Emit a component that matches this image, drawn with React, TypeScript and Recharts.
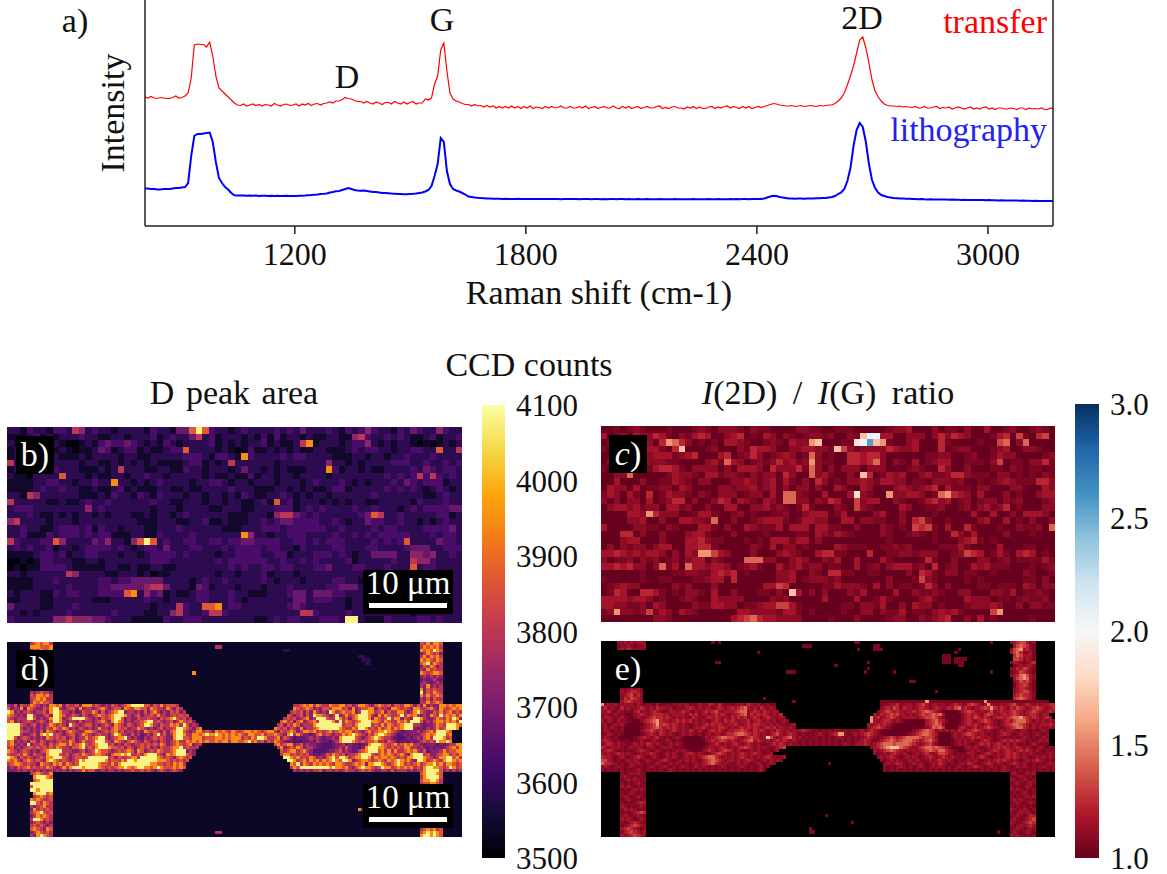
import React from "react";
import { Bar, BarChart, Line, LineChart, Scatter, ScatterChart, XAxis, YAxis } from "recharts";

const SERIF = '"Liberation Serif", serif';

const shiftValues = [
  811, 819, 827, 835, 843, 851, 859, 867, 875, 883,
  891, 899, 907, 915, 923, 931, 939, 947, 955, 963,
  971, 979, 987, 995, 1003, 1011, 1019, 1027, 1035, 1043,
  1051, 1059, 1067, 1075, 1083, 1091, 1099, 1107, 1115, 1123,
  1131, 1139, 1147, 1155, 1163, 1171, 1179, 1187, 1195, 1203,
  1211, 1219, 1227, 1235, 1243, 1251, 1259, 1267, 1275, 1283,
  1291, 1299, 1307, 1315, 1323, 1331, 1339, 1347, 1355, 1363,
  1371, 1379, 1387, 1395, 1403, 1411, 1419, 1427, 1435, 1443,
  1451, 1459, 1467, 1475, 1483, 1491, 1499, 1507, 1515, 1523,
  1531, 1539, 1547, 1555, 1563, 1571, 1579, 1587, 1595, 1603,
  1611, 1619, 1627, 1635, 1643, 1651, 1659, 1667, 1675, 1683,
  1691, 1699, 1707, 1715, 1723, 1731, 1739, 1747, 1755, 1763,
  1771, 1779, 1787, 1795, 1803, 1811, 1819, 1827, 1835, 1843,
  1851, 1859, 1867, 1875, 1883, 1891, 1899, 1907, 1915, 1923,
  1931, 1939, 1947, 1955, 1963, 1971, 1979, 1987, 1995, 2003,
  2011, 2019, 2027, 2035, 2043, 2051, 2059, 2067, 2075, 2083,
  2091, 2099, 2107, 2115, 2123, 2131, 2139, 2147, 2155, 2163,
  2171, 2179, 2187, 2195, 2203, 2211, 2219, 2227, 2235, 2243,
  2251, 2259, 2267, 2275, 2283, 2291, 2299, 2307, 2315, 2323,
  2331, 2339, 2347, 2355, 2363, 2371, 2379, 2387, 2395, 2403,
  2411, 2419, 2427, 2435, 2443, 2451, 2459, 2467, 2475, 2483,
  2491, 2499, 2507, 2515, 2523, 2531, 2539, 2547, 2555, 2563,
  2571, 2579, 2587, 2595, 2603, 2611, 2619, 2627, 2635, 2643,
  2651, 2659, 2667, 2675, 2683, 2691, 2699, 2707, 2715, 2723,
  2731, 2739, 2747, 2755, 2763, 2771, 2779, 2787, 2795, 2803,
  2811, 2819, 2827, 2835, 2843, 2851, 2859, 2867, 2875, 2883,
  2891, 2899, 2907, 2915, 2923, 2931, 2939, 2947, 2955, 2963,
  2971, 2979, 2987, 2995, 3003, 3011, 3019, 3027, 3035, 3043,
  3051, 3059, 3067, 3075, 3083, 3091, 3099, 3107, 3115, 3123,
  3131, 3139, 3147, 3155, 3163, 3169,
];

const transferValues = [
  129, 128, 129.5, 128, 127.5, 128.5, 128, 127.5, 127.5, 128.5,
  130, 128, 128.5, 130, 133, 148, 181, 182, 181.5, 181.5,
  179, 184, 170, 150, 138, 135, 132, 129, 126, 123,
  121, 120.5, 122, 120, 121, 122, 120.5, 121.5, 120, 121.5,
  121, 120, 122.5, 121, 120, 121.5, 122, 120.5, 121, 122,
  120, 122, 121, 122.5, 120.5, 122, 122.5, 121, 122.5, 123,
  124, 123, 125, 125, 126.5, 128.5, 127.5, 127, 125.5, 124.5,
  124.5, 123, 124.5, 123, 122, 124, 123, 121.5, 123.5, 123.5,
  122, 124.5, 123, 122, 124, 122, 123.5, 124.5, 122, 123,
  123, 127, 126, 128, 142, 150, 176, 183, 155, 133,
  127, 125, 124, 122.5, 121.5, 121.5, 120, 121.5, 120, 120.5,
  119, 120.5, 119, 120, 118, 119.5, 118, 119.5, 118, 120,
  118, 119.5, 117.5, 119.5, 118, 120, 117.5, 119, 118.5, 117.5,
  119.5, 118, 119.5, 118, 118.5, 120, 118, 118, 119.5, 118,
  118, 119.5, 118, 120, 117.5, 118.5, 119.5, 117.5, 118.5, 119.5,
  118, 118, 120, 118, 117.5, 119.5, 118, 119.5, 117.5, 118.5,
  119.5, 117.5, 118.5, 119.5, 118, 118, 119.5, 120, 117.5, 118.5,
  117.5, 119, 119.5, 118, 118, 117, 119, 118, 119.5, 117.5,
  119, 117.5, 117.5, 119, 119.5, 117.5, 119, 118, 119.5, 120,
  118, 119.5, 118.5, 117.5, 119.5, 118, 119.5, 117.5, 118.5, 119.5,
  118.5, 119.5, 120.5, 121.5, 122.5, 122, 121, 120.5, 120, 120,
  120.5, 119.5, 120, 120.5, 119.5, 120, 120.5, 120, 119.5, 120.5,
  120, 120.5, 121, 121, 122.5, 125, 128, 133, 141, 150,
  160, 173, 186, 189, 178, 163, 146, 135, 129, 125,
  122, 120.5, 120, 120, 119.5, 120, 119, 119.5, 119, 118.5,
  119.5, 118, 118, 119.5, 118, 118, 119, 119.5, 117.5, 118.5,
  118, 119, 117, 118, 119, 118, 117, 118, 119, 117,
  118, 117, 118.5, 119, 117, 118, 116.5, 118, 118, 117,
  117, 118, 117.5, 116.5, 118, 118, 116.5, 118, 117, 117.5,
  117, 118, 116.5, 116.5, 118, 117,
];

const lithographyValues = [
  37.5, 37.5, 37, 37, 36.5, 36.5, 37, 37, 37, 37.5,
  38, 38, 38.5, 39, 43, 70, 90, 92, 92, 92.5,
  93, 93.5, 84, 64, 48, 43, 39, 36.5, 33, 30.7,
  30.5, 30.5, 30.5, 30.3, 30.5, 30.2, 30.5, 30, 30.3, 30.2,
  30, 30.2, 30, 30.3, 30, 30, 30.2, 30, 30, 30,
  30.2, 30.3, 30.5, 30.8, 31, 31.3, 31.5, 32, 32.2, 32.5,
  33.5, 34, 34.7, 35, 36, 37, 38, 37, 36, 35.5,
  35.3, 35.5, 35, 34.5, 34, 34, 33.5, 33, 33, 32.8,
  32.5, 32.3, 32, 32, 31.8, 31.8, 32, 32.2, 32.5, 33,
  33.5, 34.5, 36, 40, 50, 62, 88, 84, 55, 42,
  37, 35.5, 34.5, 33, 31.5, 29.5, 29, 28.5, 28.2, 28,
  27.8, 27.5, 27.5, 27.3, 27.2, 27.2, 27, 27.2, 27, 27,
  27, 27.2, 27, 27.1, 26.9, 27, 27.1, 26.9, 27, 27,
  26.9, 27, 27.1, 26.9, 27, 26.8, 27, 27, 26.9, 27,
  26.9, 26.8, 27, 26.9, 27, 26.8, 26.9, 27, 26.8, 26.9,
  26.8, 27, 26.9, 26.8, 26.9, 27, 26.8, 26.9, 26.8, 26.7,
  26.9, 26.8, 26.7, 26.9, 26.8, 26.7, 26.8, 26.9, 26.7, 26.8,
  26.7, 26.8, 26.9, 26.7, 26.8, 26.7, 26.8, 26.7, 26.9, 26.8,
  26.7, 26.8, 26.7, 26.9, 26.8, 26.7, 26.9, 26.8, 26.7, 26.8,
  26.9, 26.8, 26.9, 26.8, 26.9, 27, 26.8, 26.9, 26.9, 27,
  27, 27.5, 28.5, 29.5, 30.3, 30, 29, 28.5, 28, 27.5,
  27.5, 27.3, 27.5, 27.5, 27.3, 27.5, 27.5, 27.5, 27.7, 27.7,
  28, 28, 28.5, 29, 30, 32, 33.5, 37, 45, 58,
  80, 96, 103, 99, 84, 62, 46, 38, 33.5, 31,
  30, 29, 28.5, 28, 27.8, 27.5, 27.5, 27.3, 27.2, 27,
  27, 26.8, 26.9, 26.7, 26.6, 26.7, 26.5, 26.6, 26.4, 26.5,
  26.4, 26.3, 26.4, 26.2, 26.3, 26.1, 26.2, 26, 26.1, 26,
  26, 25.9, 26, 25.8, 25.9, 25.7, 25.8, 25.6, 25.7, 25.6,
  25.5, 25.6, 25.4, 25.5, 25.3, 25.4, 25.2, 25.3, 25.1, 25.2,
  25, 25.1, 25, 24.9, 25, 24.9,
];

const spectrumTicks = [1200, 1800, 2400, 3000];

// Digits in the map rows index these levels
const transferCountLevels = [3510, 3545, 3590, 3630, 3680, 3730, 3800, 3870, 3950, 4080];
const lithographyCountLevels = [3510, 3545, 3590, 3650, 3680, 3720, 3790, 3860, 3950, 4080];
const ratioLevels: Record<string, number> = {
  "0": 1.0, "1": 1.05, "2": 1.1, "3": 1.16, "4": 1.24, "5": 1.32, "6": 1.42, "7": 1.55, "8": 1.7, "9": 1.85, W: 2.03, B: 2.55,
};

const infernoStops = ["#000004", "#160b39", "#420a68", "#6a176e", "#932667", "#bc3754", "#dd513a", "#f37819", "#fca50a", "#f6d746", "#fcffa4"];
const rdbuStops = ["#67001f", "#b2182b", "#d6604d", "#f4a582", "#fddbc7", "#f7f7f7", "#d1e5f0", "#92c5de", "#4393c3", "#2166ac", "#053061"];

const countMarks = [3500, 3650, 3800, 3950, 4100];
const countLabels = [3500, 3600, 3700, 3800, 3900, 4000, 4100];
const ratioMarks = [1, 1.5, 2, 2.5, 3];

// D peak area, transfer sample
const dPeakTransfer = [
  "2213221332 6523221222 2132214479 7322123222 2323242223 2132353221 3243225322",
  "1112312122 2322112212 2231232246 2312221213 1312212112 2115632232 3211231223",
  "2121223210 0121343343 2121321222 2312121223 1211268122 2123352121 2210101212",
  "1211222121 0112431233 1211233722 2212101311 2121211221 1123233221 2233227226",
  "1232123211 1212222122 1122222333 2133218322 2232332222 1112212212 2322232222",
  "6221232222 2122112121 2121111233 1212622222 2122222225 2212122223 3322322323",
  "1223231322 2111212622 2112211322 1222124221 2121112228 3122121122 2232432332",
  "2110222272 2212112212 2322122222 1211211312 2122122221 2222222232 3236363232",
  "1111223322 1223228221 2123222212 2332122122 2122212322 2321212223 2432333122",
  "1111232232 2112112312 1112211211 2222322211 1221212112 3312222232 3232123212",
  "2216522222 2111213221 3213222122 1221213211 2232121221 2222223222 2222112322",
  "6222221121 1232232222 2232211222 1221221123 1723122212 1212211222 2213222322",
  "2333222222 2252322222 2212221222 2112221122 2333123232 2223223222 1232333344",
  "2223211212 1221212221 1212212322 2222111222 1566432322 2222347622 3222223312",
  "5622221222 1222222222 1112221122 3112111223 2344333322 3212243322 3221212322",
  "2232211233 3231322122 2112223222 2221112223 3323333332 2322223233 2222333342",
  "2231113233 3232331112 2113222232 2222228522 1223332222 3223232333 3322232332",
  "6322233752 2224352215 7972322332 2332334433 3322332323 3322223232 3722224332",
  "2323223122 1233332321 2332422233 2223233332 3322132222 3322233222 2344422333",
  "1111233231 2233222122 1233332322 2212233332 2331222333 2321224444 2255452232",
  "0010133222 1122122222 2233322222 2232333333 2232232322 2231222223 2265532222",
  "0101133332 1111122112 1122112222 2222323223 3233222334 2223322232 2272332222",
  "2212222226 5222211222 1201122222 2212212223 1222122222 2222233222 2222122222",
  "1111222322 2222332334 4444222212 3223222223 2122212222 3322122222 2222222222",
  "1111222223 2222334444 4566422214 3122212221 2223222223 3444222222 2222221222",
  "2122211323 3222333378 2534121123 3222322111 2223442444 3322222222 2222222222",
  "1122211222 2221112222 2322122223 3222321222 2222442333 2212222222 2222222222",
  "4222211222 3222222222 2212226322 7782332222 2223432222 2212222222 2222212222",
  "2212122223 2222223222 2112256322 3663222222 2222266322 2232222222 2212222222",
  "3222222556 5554432221 1111322333 2222222211 2323322233 3299211132 2223323222",
];

// I(2D)/I(G), transfer sample
const ratioTransfer = [
  "0010121000 1000121022 2102110000 2211001110 0000122300 0201102003 0012001210",
  "3012032243 1021343002 3401032021 0122120021 8WW3300222 0242432000 1340510450",
  "0120001204 7642010103 3210012103 2278000119 WB87100230 0041000010 0560260000",
  "1011203331 0480001200 0214332002 2332218521 2222432230 0040122000 1230022100",
  "0000123233 3123400034 0124201232 0162010044 3442000000 1122001200 1322000012",
  "0212332222 1100002316 3201212423 1272110044 3462021030 1233001110 2501102241",
  "1002222134 4310222202 0333204222 4162020222 0222000121 0042002000 1102101101",
  "0022600000 1322103312 2102122042 0062310020 8401323002 3112442111 0220101021",
  "0030002001 1321022000 2232123031 0204201022 3213322011 0222120010 1232111442",
  "0322030112 2032000022 1223123020 2202003200 3200023212 3403111022 0002200032",
  "1320310401 3221021022 2012203066 2100300039 2100722332 0167432030 0020100233",
  "2020220301 2440200243 0321032066 2202143005 2330021001 3423012012 2021200012",
  "0233231220 3312002003 3002231210 1410002105 2100003200 1120012023 1240100022",
  "0000332742 2200133100 1201001120 0233301300 0023002000 0100000300 3002033320",
  "0000223002 0033221600 2001233310 1332200330 2211002045 2001000023 0030102002",
  "3000022110 2100033102 0032111303 3303311002 0002101054 5103004100 0100211206",
  "0004402002 0002331000 2000010000 1103213210 0002100121 0100420300 0020001000",
  "0002330002 0003342110 0010103331 3302000000 0000100000 0100023410 1000000000",
  "0202122023 3003344100 0002103022 0100003211 1001121200 0011131000 0300011000",
  "3343232332 0203277532 0002000232 1003441100 0400112212 2200125430 1310343010",
  "2011202120 1202330210 0066622002 3200213003 0003100000 4100200022 0120111131",
  "3343422026 1306332332 0123100312 3122011003 0120233312 0401200323 1110001012",
  "0000001000 0112211343 4010000223 0021044110 0110000204 3102201100 1000021001",
  "1000001001 1000112330 4000000223 0122212000 0000200015 2100001010 0000011020",
  "0123220000 0212000200 0000033540 0000113222 1030201101 4202000011 0111032022",
  "0143004431 0102210300 2000110208 3020200021 3000030021 1210022000 2213011210",
  "3333233201 0012100322 2200002120 0000300003 0013100002 3100003222 0110121120",
  "3322112032 0000211332 2011233553 1000000110 2213002032 2010001222 3200202211",
  "1272212513 2032100000 0332222133 1010000100 2202113011 0232310000 5700000000",
  "0000000022 1000000000 3456433222 2000010002 0000122002 1234002030 1000001000",
];

// [row, first column, digits] on the finer grid of the lithography maps
type Segment = [number, number, string];

const dPeakLithography: Segment[] = [
  [0, 7, "6787886"], [0, 127, "7686887"], [1, 64, "66"], [1, 7, "8887778"], [1, 127, "6878786"], [2, 7, "5768678"], [2, 127, "8787987"],
  [2, 85, "22"], [3, 127, "5687675"], [4, 127, "6868786"], [4, 108, "22"], [5, 127, "8787687"], [5, 109, "222"], [6, 127, "7896876"], [6, 110, "22"],
  [7, 127, "5768756"], [8, 127, "6586766"], [9, 127, "8767887"], [9, 57, "8"], [10, 127, "5656565"], [11, 127, "4545654"], [12, 127, "5654565"],
  [13, 127, "6585656"], [14, 127, "8576766"], [15, 127, "9576876"], [16, 127, "8686787"], [17, 127, "6575766"], [18, 127, "6686787"],
  [15, 7, "6567665"], [16, 7, "7688786"], [17, 7, "6787866"], [18, 7, "6878776"],
  [19, 0, "6574766876 5658878576 6758886765 6576567899 9977576867 776"], [19, 88, "6678786876 6877886756 8876578767 5776887575 8565588787 88"],
  [20, 0, "7565848765 5768996567 7585665678 6567758768 8775876658 6576"], [20, 88, "8767875657 7688867585 6778857665 8876765886 6786587678 78"],
  [21, 0, "9856567656 6758998665 6457668757 5678995665 6575786565 76756"], [21, 87, "6767575865 6598678778 5699886785 7668865689 7655768678 676"],
  [22, 0, "8765659965 5675998756 7657656787 6789998656 7566768665 676767"], [22, 86, "7656757598 8765695686 7899986586 8766796878 6565876978 7868"],
  [23, 0, "7656669975 6568998567 9999765657 6789975655 7667665767 8976756"], [23, 85, "6767567856 9997669867 5789998587 6796885765 9986556876 87985"],
  [24, 0, "7856567656 7657998656 6575665678 6589875656 6789967656 75687675"], [24, 84, "7867578567 8699998696 8767899988 7687668786 9997565788 7878697"],
  [25, 0, "9999765675 6568767659 7656775656 7658765765 6799865766 878697565"], [25, 83, "6757687566 6899999999 6776899996 7686876789 9966545568 7699987"],
  [26, 0, "9999656565 6576876875 6576565686 6578767566 8765656756 6799876578"], [26, 82, "8767576585 6678999999 8766879986 7686786878 9995454656 8679998"],
  [27, 0, "9999766565 7587656578 7656887656 7678675665 6587676575 7899765688 6765878768 7678878767 8865767875 6887867678 6787886765 7867889876 5445556567 8699987"],
  [28, 0, "9999655675 8989676567 7568765676 6579866575 6456579675 6899866887 8988987878 7876887786 7787658968 6554578676 5668789876 5768998765 3454555678 7899978"],
  [29, 0, "9975676565 6587676756 7566867899 6567889656 5465676765 5899776888 6777887878 8867687998 6678576534 4456565455 6589999765 6789876654 3345456578 6999867"],
  [30, 0, "7856565775 7656567668 7568667999 7658765787 6576565765 6786687878 7877878868 8778978675 7687654433 3445465443 5689998767 6778665765 3444545676 7698898"],
  [31, 0, "7865659566 7657678868 6789767899 9675657656 6767676875 6787678566"], [31, 82, "7867885675 6554433345 5645443458 9998767867 8786654555 3545668867 78"],
  [32, 0, "6756567767 6767687665 7789676899 9877675765 6767565766 788967666"], [32, 83, "6856768756 6543333456 5754435899 9887676768 8665654545 4567868785 6"],
  [33, 0, "8765676565 6789999666 5567567987 7656767875 8756768766 78999565"], [33, 84, "7678867865 3333455675 6544678999 7868686678 7865745556 86778878"],
  [34, 0, "7667686576 6589997675 6768767887 6578898966 7689997658 78999765"], [34, 84, "6886767675 4445768767 5667899976 7878767865 8999675567 88676878"],
  [35, 0, "9875767656 7688999765 6776799999 9675766788 6999998767 6578767"], [35, 85, "9987867687 5657897998 6788998687 8878767688 9998765688 99786"],
  [36, 0, "8786578767 6589876765 6798999999 8677687998 9999998887 676767"], [36, 86, "9986786878 6878987998 5678876787 6878987865 9986787689 9878"],
  [37, 0, "6788767665 8776878687 6799999987 7686899999 9999887767 68786"], [37, 87, "8796876878 7876887667 8785889987 6789867678 6788978688 767"],
  [38, 0, "5657678676 7687656868 9998999987 6767889878 9988789877 78787"], [38, 87, "6879999999 9989887865 7898876798 8678787867 6899887679 867"],
  [39, 0, "5556565656 5656565656 5668677556 5665656676 6767656765 6765"], [39, 88, "6565656675 6656567665 6767655665 7566656566 8999975656 56"],
  [40, 7, "6787668"], [40, 127, "7899987"], [41, 8, "899987"], [41, 127, "6899997"], [42, 8, "789999"], [42, 127, "7889986"], [43, 7, "9999999"], [43, 127, "6778876"],
  [44, 7, "7999999"], [45, 7, "9989999"], [46, 8, "899978"], [47, 8, "678767"], [48, 7, "8787667"], [49, 7, "9976876"], [50, 7, "6567866"],
  [51, 7, "5867676"], [51, 108, "84"], [52, 7, "6789767"], [53, 7, "5687876"], [54, 7, "6998676"], [55, 7, "5676565"], [56, 7, "6767656"],
  [57, 7, "7876587"], [58, 7, "5687676"], [58, 64, "66"], [59, 7, "6589876"], [57, 127, "6787867"], [58, 127, "7898987"], [59, 127, "8998987"],
];

const ratioLithography: Segment[] = [
  [0, 5, "223232332"], [1, 5, "122321223"], [2, 5, "232432222"], [0, 34, "1"], [0, 36, "1"], [0, 78, "11"], [0, 120, "1"], [1, 62, "111"], [1, 84, "11"], [2, 84, "111"], [2, 79, "1"], [2, 110, "1"], [3, 48, "1"], [3, 109, "1"],
  [4, 105, "111"], [5, 105, "111"], [5, 109, "1111"], [6, 35, "11"], [6, 82, "1"], [6, 105, "111"], [6, 109, "111"], [7, 72, "1"], [7, 110, "11"], [8, 82, "1"], [9, 57, "111"], [9, 81, "1"], [9, 90, "1"], [9, 120, "1"], [12, 95, "11"], [15, 103, "1"], [17, 50, "1"], [18, 59, "1"],
  [0, 126, "23455312"], [1, 127, "3565421"], [2, 126, "25673421"], [3, 126, "35642231"], [4, 127, "4653331"], [5, 127, "5542321"], [6, 126, "23321234"], [7, 127, "1232332"], [8, 126, "22435421"], [9, 126, "12354321"], [10, 126, "23467532"], [11, 127, "3567632"], [12, 127, "2354531"], [13, 127, "1345421"], [14, 127, "2344321"], [15, 127, "2345531"], [16, 127, "3454432"], [17, 127, "4565431"],
  [14, 6, "2123231"], [15, 6, "3234432"], [16, 6, "2345342"], [17, 6, "2435432"], [18, 6, "3454332"],
  [19, 0, "7232322323 2321221311 2122323121 3224324212 1223243232 1211"], [18, 86, "1111111111 1111711111 1111111111 1171111111 1111111111 11"],
  [19, 86, "1223342233 2345323323 1234322454 3237322323 4532343232 3344"],
  [20, 0, "3423214232 2343232433 2312223432 3233234323 4345632324 3232"], [20, 86, "2343542433 2344323432 3435634323 3454743432 4354323454 3234"],
  [21, 0, "3242132121 3423234321 2332343213 2343453233 3456623432 43233"], [21, 85, "2345434323 3434565432 0000023454 3232352343 3454323454 32343"],
  [22, 0, "2321322101 2343234443 3233332434 2332343432 3345624343 432324"], [22, 84, "3243454533 2323454565 6300000234 3432454323 4345432344 3233"],
  [23, 0, "2332123210 2322345443 4323232143 2234343232 4343423432 3432232"], [23, 83, "7342345432 3333234556 5320000023 4354343234 4345667543 432343"],
  [24, 0, "3132132211 0023456743 3234343423 2321343243 4323342343 23231232"], [24, 83, "7323443232 0000000345 6432000023 4323454321 2343566643 2323232"],
  [25, 0, "2312323100 0002345745 4343232123 2343434323 3432343443 3232322123"], [25, 82, "3234343210 0000000034 5652000012 3434323432 1234566543 23233343"],
  [26, 0, "1323212000 0012345643 4343232123 3432334432 3234343432 3434232232"], [26, 82, "2345432100 0000000123 6564000034 3234234543 2123456643 23232232"],
  [27, 0, "2321212000 0023454343 2343232432 3213434323 3445432434 3232432323 2343212121 2122121212 3234321000 0000002345 6542323232 4323454323 2123233212 32121232"],
  [28, 0, "1232121000 0012343243 2321232321 2123233234 4566543432 3234532343 2121212321 2347721232 3454321000 0000123456 6543000023 2345432321 2123432123 22123212"],
  [29, 0, "2321210000 1234323421 2123210000 0132345665 5432345432 3853234563 2312122121 2123212121 2343212345 4345666654 5542000023 2323434323 2122121212 32121232"],
  [30, 0, "3432121110 1232123212 3212100000 0023434543 4323456343 2323434323 2121212121 2121212122 3432123456 5456665434 5643000002 3232321343 2123434343 21212323"],
  [31, 0, "2343232212 3232432321 2323210000 0012343232 3432343232 1234343232 2121212121 2121232123 3432345666 5666654323 4532000012 3232123434 2343232321 21232121"],
  [32, 0, "4323232123 2321232123 2321210000 0123323432 3234543232 3212345"], [32, 83, "2345678886 5432345665 6543200002 3232123234 3432343232 1232121"],
  [33, 0, "2343212121 2343212321 2123232100 1234323454 3232123232 12123"], [33, 84, "3234565432 3232345654 6643210012 3232123432 3432343432 32121212"],
  [34, 0, "3232343232 1232343212 3232123432 3212345432 3234323432 123"], [34, 84, "2123234323 2123234323 5543212123 3212343232 3434323232 12123232"],
  [35, 0, "4332123212 3432123212 3232123232 3456643232 3234323232 3432123"], [35, 85, "2323432123 2321234323 4323212123 2343212323 4343232123 23232"],
  [36, 0, "5532121232 3212321234 3212323232 1345654323 3232343212 323232"], [36, 86, "2123232123 2321232343 2321212323 2123234343 2321232343 2121"],
  [37, 0, "6443212123 2321212321 2323212123 2345643232 1232321232 1232"], [37, 87, "2323432123 2321232432 1212324321 2343232123 4323212121 232"], [37, 70, "1"],
  [38, 0, "2321232123 2121232123 2121232123 2321212321 2123212123 12"], [38, 87, "2121232121 2321232321 2123212343 2123212321 2323212123 212"],
  [39, 0, "2121212121 2321212121 2321212121 2121212121 2121212123 1"], [39, 87, "2121212121 2121212121 2121212121 2121212321 2121212121 2123"],
  [40, 6, "21232321"], [40, 126, "23212323"], [41, 6, "23212121"], [41, 126, "21232121"], [42, 6, "12323212"], [42, 126, "32123212"], [43, 6, "21212321"], [43, 126, "12321232"], [44, 6, "32321212"], [44, 126, "21212321"], [45, 6, "12123232"], [45, 126, "32321212"], [46, 6, "21232121"], [46, 126, "12123212"], [47, 6, "23212321"], [47, 126, "21212323"], [48, 6, "12321212"], [48, 126, "23232121"], [49, 6, "21212343"], [49, 126, "12321232"], [50, 6, "32121232"], [50, 126, "21212121"], [51, 6, "23232121"], [51, 126, "32123212"], [52, 6, "12123454"], [52, 126, "21232321"], [53, 6, "23212321"], [53, 126, "12321243"], [53, 69, "1"], [54, 6, "32321232"], [54, 126, "23212345"], [55, 6, "21234321"], [55, 126, "32123454"], [55, 77, "1"], [56, 6, "12345432"], [56, 126, "21232343"], [57, 6, "34543212"], [57, 126, "12321232"], [57, 64, "1"], [58, 6, "23454323"], [58, 126, "23212321"], [58, 64, "11"], [58, 122, "1"], [59, 6, "32345432"], [59, 126, "32321212"],
];

function interpolate(stops: string[], t: number) {
  const clamped = Math.max(0, Math.min(1, t));
  const pos = clamped * (stops.length - 1);
  const i = Math.min(Math.floor(pos), stops.length - 2);
  const f = pos - i;
  const rgb = [1, 3, 5].map((k) => {
    const a = parseInt(stops[i].slice(k, k + 2), 16);
    const b = parseInt(stops[i + 1].slice(k, k + 2), 16);
    return Math.round(a + (b - a) * f);
  });
  return `rgb(${rgb.join(",")})`;
}

const countColor = (v: number) => interpolate(infernoStops, (v - 3500) / 600);
const ratioColor = (v: number) => interpolate(rdbuStops, (v - 1) / 2);

type MapCell = { col: number; row: number; fill: string };

function cellsFromRows(rows: string[], colorOf: (c: string) => string): MapCell[] {
  const cells: MapCell[] = [];
  rows.forEach((r, row) => {
    r.replace(/ /g, "").split("").forEach((c, col) => {
      cells.push({ col: col + 0.5, row: row + 0.5, fill: colorOf(c) });
    });
  });
  return cells;
}

function cellsFromSegments(segments: Segment[], colorOf: (c: string) => string): MapCell[] {
  const cells: MapCell[] = [];
  segments.forEach(([row, start, digits]) => {
    digits.replace(/ /g, "").split("").forEach((c, i) => {
      if (start + i < 140) cells.push({ col: start + i + 0.5, row: row + 0.5, fill: colorOf(c) });
    });
  });
  return cells;
}

const ratioOf = (c: string) => ratioColor(ratioLevels[c]);

function MapPanel({ left, top, width, height, cols, rows, cells, background }: {
  left: number; top: number; width: number; height: number; cols: number; rows: number; cells: MapCell[]; background?: string;
}) {
  const w = width / cols;
  const h = height / rows;
  return (
    <div style={{ position: "absolute", left, top, width, height, background }}>
      <ScatterChart width={width} height={height} margin={{ top: 0, right: 0, bottom: 0, left: 0 }}>
        <XAxis type="number" dataKey="col" domain={[0, cols]} hide />
        <YAxis type="number" dataKey="row" domain={[0, rows]} reversed hide />
        <Scatter
          data={cells}
          isAnimationActive={false}
          shape={(p: any) => (
            <rect x={p.cx - w / 2} y={p.cy - h / 2} width={w} height={h} fill={p.payload.fill} shapeRendering="crispEdges" />
          )}
        />
      </ScatterChart>
    </div>
  );
}

function Note({ x, y, size = 34, color = "#111", anchor = "center", spacing = 0, children }: {
  x: number; y: number; size?: number; color?: string; anchor?: "center" | "right"; spacing?: number; children: React.ReactNode;
}) {
  const tx = anchor === "center" ? "-50%" : "-100%";
  return (
    <div style={{ position: "absolute", left: x, top: y, transform: `translate(${tx}, -50%)`, fontFamily: SERIF, fontSize: size, color, whiteSpace: "nowrap", lineHeight: 1, wordSpacing: spacing }}>
      {children}
    </div>
  );
}

function BlackBox({ x, y, w, h }: { x: number; y: number; w: number; h: number }) {
  return <div style={{ position: "absolute", left: x, top: y, width: w, height: h, background: "#000" }} />;
}

function Colorbar({ left, top, height, width, id, stops, domain, marks, labels, digits }: {
  left: number; top: number; height: number; width: number; id: string; stops: string[]; domain: [number, number]; marks: number[]; labels: number[]; digits: number;
}) {
  const pad = 16;
  return (
    <div style={{ position: "absolute", left, top: top - pad }}>
      <BarChart width={width + 81} height={height + 2 * pad} data={[{ name: "scale", top: domain[1] }]} margin={{ top: pad, right: 0, bottom: pad, left: 0 }} barCategoryGap={0}>
        <defs>
          <linearGradient id={id} x1="0" y1="1" x2="0" y2="0">
            {stops.map((c, i) => (
              <stop key={c} offset={i / (stops.length - 1)} stopColor={c} />
            ))}
          </linearGradient>
        </defs>
        <XAxis dataKey="name" hide />
        <YAxis yAxisId="marks" orientation="right" domain={domain} ticks={marks} tick={false} tickSize={3} width={3} axisLine={false} tickLine={{ stroke: "#222" }} allowDataOverflow />
        <YAxis
          yAxisId="labels"
          orientation="right"
          domain={domain}
          ticks={labels}
          interval={0}
          width={78}
          axisLine={false}
          tickLine={false}
          tickMargin={5}
          tickFormatter={(v: number) => v.toFixed(digits)}
          tick={{ fontFamily: SERIF, fontSize: 31, fill: "#111" }}
          allowDataOverflow
        />
        <Bar yAxisId="marks" dataKey="top" fill={`url(#${id})`} isAnimationActive={false} />
      </BarChart>
    </div>
  );
}

function ScaleBar({ y }: { y: number }) {
  return (
    <>
      <BlackBox x={363} y={y} w={90} h={44} />
      <Note x={408} y={y + 13} size={33} color="#fff">10 μm</Note>
      <div style={{ position: "absolute", left: 369, top: y + 33, width: 78, height: 5, background: "#fff" }} />
    </>
  );
}

const spectrum = shiftValues.map((shift, i) => ({
  shift,
  transfer: transferValues[i],
  lithography: lithographyValues[i],
}));

const panelB = cellsFromRows(dPeakTransfer, (c) => countColor(transferCountLevels[Number(c)]));
const panelC = cellsFromRows(ratioTransfer, ratioOf);
const panelD = cellsFromSegments(dPeakLithography, (c) => countColor(lithographyCountLevels[Number(c)]));
const panelE = cellsFromSegments(ratioLithography, ratioOf);

export default function App() {
  return (
    <div style={{ position: "absolute", left: 0, top: 0, width: 1167, height: 874, overflow: "hidden", background: "#fff" }}>
      <LineChart width={1167} height={326} data={spectrum} margin={{ top: 0, right: 0, bottom: 0, left: 0 }}>
        <XAxis
          dataKey="shift"
          type="number"
          domain={[811, 3169]}
          ticks={spectrumTicks}
          height={100}
          tickSize={8}
          tickMargin={8}
          stroke="#222"
          strokeWidth={1.5}
          tick={{ fontFamily: SERIF, fontSize: 32, fill: "#111", strokeWidth: 0 }}
          label={{ value: "Raman shift (cm-1)", position: "insideBottom", offset: 22, style: { fontFamily: SERIF, fontSize: 34, fill: "#111", strokeWidth: 0 } }}
        />
        <XAxis xAxisId="inner" dataKey="shift" type="number" domain={[811, 3169]} ticks={spectrumTicks} mirror tick={false} tickSize={8} axisLine={false} stroke="#222" strokeWidth={1.5} />
        <YAxis
          domain={[0, 226]}
          width={145}
          tick={false}
          tickLine={false}
          stroke="#222"
          strokeWidth={1.5}
          label={{ value: "Intensity", angle: -90, position: "insideLeft", offset: 112, style: { fontFamily: SERIF, fontSize: 34, fill: "#111", textAnchor: "middle", strokeWidth: 0 } }}
        />
        <YAxis yAxisId="right" orientation="right" domain={[0, 226]} width={114} tick={false} tickLine={false} stroke="#222" strokeWidth={1.5} />
        <Line dataKey="transfer" stroke="#ff0000" strokeWidth={1.2} dot={false} isAnimationActive={false} />
        <Line dataKey="lithography" stroke="#0000ff" strokeWidth={2} dot={false} isAnimationActive={false} />
      </LineChart>

      <Note x={75} y={21}>a)</Note>
      <Note x={347} y={77}>D</Note>
      <Note x={442} y={20}>G</Note>
      <Note x={862} y={18}>2D</Note>
      <Note x={1047} y={22} anchor="right" color="#ff0000">transfer</Note>
      <Note x={1047} y={130} anchor="right" color="#2222ee">lithography</Note>

      <Note x={234} y={393} spacing={3}>D peak area</Note>
      <Note x={529} y={365}>CCD counts</Note>
      <Note x={828} y={393} spacing={7}><i>I</i>(2D) / <i>I</i>(G) ratio</Note>

      <MapPanel left={7} top={427} width={455} height={196} cols={70} rows={30} cells={panelB} />
      <MapPanel left={601} top={426} width={454} height={196} cols={70} rows={30} cells={panelC} />
      <MapPanel left={7} top={642} width={455} height={195} cols={140} rows={60} cells={panelD} background="#0c0726" />
      <MapPanel left={601} top={641} width={454} height={196} cols={140} rows={60} cells={panelE} background="#000" />

      <BlackBox x={16} y={436} w={38} h={38} />
      <Note x={35} y={455} color="#fff">b)</Note>
      <BlackBox x={609} y={435} w={38} h={38} />
      <Note x={628} y={454} color="#fff"><i>c</i>)</Note>
      <BlackBox x={16} y={650} w={38} h={38} />
      <Note x={35} y={669} color="#fff">d)</Note>
      <BlackBox x={609} y={650} w={38} h={38} />
      <Note x={628} y={669} color="#fff">e)</Note>
      <ScaleBar y={570} />
      <ScaleBar y={784} />

      <Colorbar left={482} top={405} height={453} width={23} id="inferno" stops={infernoStops} domain={[3500, 4100]} marks={countMarks} labels={countLabels} digits={0} />
      <Colorbar left={1075} top={404} height={454} width={24} id="rdbu" stops={rdbuStops} domain={[1, 3]} marks={ratioMarks} labels={ratioMarks} digits={1} />
    </div>
  );
}
